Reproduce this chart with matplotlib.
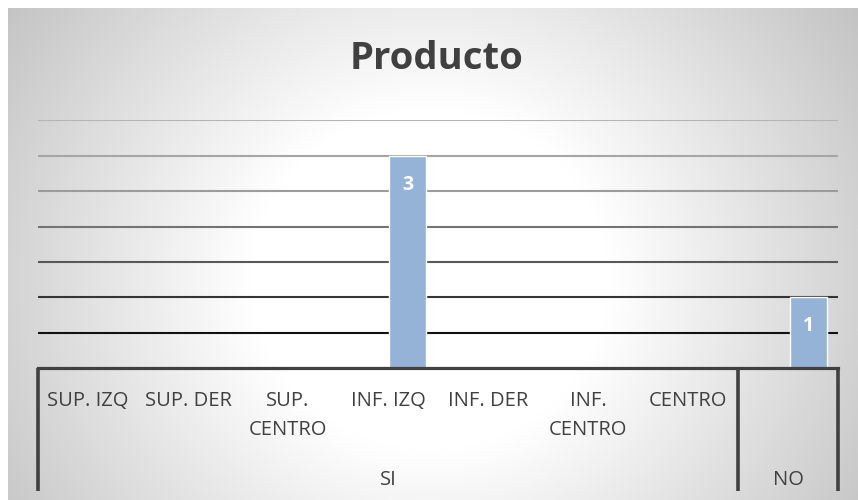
import numpy as np
import matplotlib
matplotlib.use("Agg")
import matplotlib.pyplot as plt

# ---------------- data ----------------
title = "Producto"
subcategories = ["SUP. IZQ", "SUP. DER", "SUP.\nCENTRO", "INF. IZQ",
                 "INF. DER", "INF.\nCENTRO", "CENTRO", ""]
groups = ["SI", "NO"]
group_sizes = [7, 1]
values = [0, 0, 0, 3, 0, 0, 0, 1]
y_max = 3.5
y_step = 0.5

# ---------------- styles ----------------
FONT = "Open Sans"
W, H = 858, 500
bar_color = "#95b3d7"
axis_color = "#404040"
text_color = "#404040"
grid_colors = ["#111111", "#353535", "#585858", "#737373",
               "#9c9c9c", "#a6a6a6", "#b4b4b4"]

fig = plt.figure(figsize=(W / 100, H / 100), dpi=100)
fig.patch.set_facecolor("white")

# radial gradient background of the chart area
bg = fig.add_axes([8 / W, 0, 1 - 8 / W, 1 - 8 / H])
bg.set_axis_off()
xx, yy = np.meshgrid(np.arange(8, W) + 0.5, np.arange(8, H) + 0.5)
d = np.hypot((xx - 430) * 0.95, yy - 280)
v = 255 - np.clip(d - 170, 0, None) * 62 / 330
v = np.clip(v, 192, 255) / 255
bg.imshow(np.dstack([v, v, v]), aspect="auto", extent=[0, 1, 0, 1],
          interpolation="bilinear", zorder=0)
bg.set_xlim(0, 1)
bg.set_ylim(0, 1)

# plot area
PA_TOP, PA_BOT = 120.4, 368
ax = fig.add_axes([38 / W, (H - PA_BOT) / H, 800 / W, (PA_BOT - PA_TOP) / H])
ax.patch.set_alpha(0)
n = len(values)
ax.set_xlim(-0.5, n - 0.5)
ax.set_ylim(0, y_max)
for s in ax.spines.values():
    s.set_visible(False)
ax.set_xticks([])
ax.set_yticks([])

grid_vals = np.arange(y_step, y_max + 1e-9, y_step)
for gv, gc in zip(grid_vals, grid_colors):
    ax.axhline(gv, color=gc, lw=1.5, zorder=1)

x = np.arange(n)
ax.bar(x + 0.2, values, width=0.37, color=bar_color, edgecolor="white",
       linewidth=1.0, zorder=3)
for xi, val in zip(x, values):
    if val > 0:
        ax.text(xi + 0.2, val - 0.41, str(val), ha="center", va="center",
                color="white", fontweight="bold", fontsize=14, family=FONT,
                zorder=4)

# category axis (multi-level)
tr = ax.get_xaxis_transform()
def px2ax(py):
    return (PA_BOT - py) / (PA_BOT - PA_TOP)

ax.plot([-0.5, n - 0.5], [0, 0], color=axis_color, lw=2.3, transform=tr,
        clip_on=False, zorder=5, solid_capstyle="projecting")
bounds = np.concatenate([[0], np.cumsum(group_sizes)]) - 0.5
for b in bounds:
    ax.plot([b, b], [0, px2ax(491)], color=axis_color, lw=2.6, transform=tr,
            clip_on=False, zorder=5, solid_capstyle="butt")

line_baselines = [406, 435]
for xi, lab in zip(x, subcategories):
    for li, part in enumerate(lab.split("\n")):
        ax.text(xi, px2ax(line_baselines[li]), part, ha="center",
                va="baseline", fontsize=14.5, family=FONT, color=text_color,
                transform=tr)

for gi, g in enumerate(groups):
    cx = (bounds[gi] + bounds[gi + 1]) / 2
    ax.text(cx, px2ax(485), g, ha="center", va="baseline", fontsize=14.5,
            family=FONT, color=text_color, transform=tr)

fig.text(437 / W, 1 - 69 / H, title, ha="center", va="baseline",
         fontsize=27.5, fontweight="bold", family=FONT, color=text_color)

fig.savefig("out.png", dpi=100)
